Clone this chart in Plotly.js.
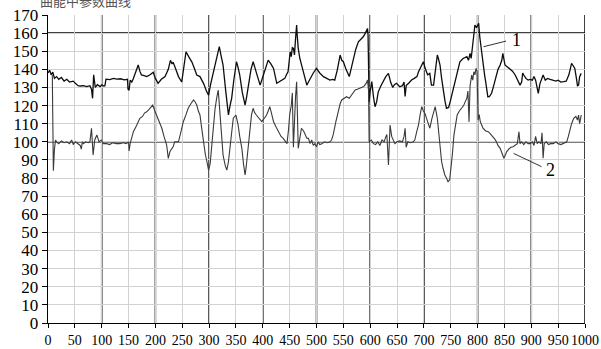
<!DOCTYPE html>
<html>
<head>
<meta charset="utf-8">
<script src="https://cdn.plot.ly/plotly-3.0.1.min.js"></script>
<style>html,body{margin:0;padding:0;background:#fff;}#chart{width:601px;height:349px;}</style>
</head>
<body>
<div id="chart"></div>
<script>
// Curve 1 (upper)
const curve1X = [0,3,6,9,12,16,20,25,30,35,40,47,52,56,60,66,72,78,81,83,85,88,92,97,100,104,106,108,115,122,128,135,142,148,149,151,153,156,159,163,168,171,174,179,184,190,196,200,205,211,218,224,228,231,233,238,243,249,253,257,262,268,272,277,283,290,295,299,303,308,313,319,322,326,331,336,339,342,346,351,354,357,362,367,370,373,378,382,387,392,395,398,401,405,410,415,420,426,432,437,441,444,447,449,451,453,455,457,459,461,463,464,466,469,472,477,482,485,488,494,500,506,513,519,525,530,534,539,544,547,550,555,561,565,569,573,578,583,587,591,595,596,598,600,603,606,609,612,615,620,624,629,634,638,642,645,649,655,660,663,665,667,672,677,682,687,690,693,696,699,703,707,711,714,718,721,725,727,730,733,736,739,742,746,749,753,758,762,767,773,780,783,786,788,791,793,795,798,802,804,805,808,810,813,815,817,819,822,826,830,835,838,842,845,847,849,851,855,860,865,870,875,879,882,884,886,890,894,898,902,905,908,911,913,916,920,922,926,930,935,941,946,950,955,960,965,970,975,978,981,984,986,988,990,993];
const curve1Y = [138,139.5,137,138.5,135,136,134.5,135.5,133.5,134.5,133,133.5,132,131,130.8,131,130.5,131,129,124,137,130,131.5,130.5,131.5,130.8,131,134.6,134.3,135,134.6,134.8,134.2,134.5,129,128.5,134,133,135,138,142.4,139,136.9,136.5,136,137,138.4,135,132.3,134.5,136,140,145,143,144,140,136,133,142,149.7,147,144,141,136.9,136,132,128,125.8,132,138.7,146,152.5,148,142.4,128,114.8,120,124,134,144.2,141,136.9,127,120.3,125,131.3,140,144.2,139,135,131.3,134,136.9,141,145.1,143,140.5,132.3,133.2,134,135,137,138.7,144,149.7,147,152,151.6,148,157,164.5,159,151.6,146,142.4,136,131.3,133,135,138,140.5,138,136,135,134.1,134.5,134.1,140,147.9,145,144.2,140,136,141,146,151,155.2,156.5,158,160,162.6,159,122,128,133.2,125,119.4,122,127.6,131,133.2,136,137.8,133,130,131.5,132.3,130.4,131,133,125,131,132.5,134.1,135,136,138.7,140.5,142.4,144.2,140,137,137.8,131.3,131.3,140,147.9,146,142.4,135,127.6,123,118.5,119,122.2,127,133.2,139,144.2,146,147,145,148.8,146,153.4,160,164.5,163,165.4,158,155.3,148,142.4,137,133.2,128,124.9,125,126.8,131,136.9,140,142.4,145,148.8,145,142.4,141.5,140.5,139,136.9,134,131.3,133,138,136.9,135,134.1,134.5,134,136,134,130,126.8,132,135,136.9,134,135,134.5,134.1,133.5,134,133,133.2,133.5,137,143.3,142,140.5,135,131,131.3,136,137.8];

// Curve 2 (lower)
const curve2X = [8,10,12,14,16,20,25,30,35,40,44,47,51,55,60,62,64,66,70,75,78,81,83,84,87,91,95,99,103,109,115,120,127,134,140,146,150,151,153,156,159,165,171,176,180,184,188,192,195,199,202,207,212,216,221,224,227,230,233,236,243,248,252,257,261,266,271,274,277,280,283,286,289,293,296,299,302,305,308,311,314,317,320,323,326,330,333,336,339,342,345,350,354,357,361,364,367,369,371,374,376,379,382,385,388,393,398,403,407,410,413,416,420,425,429,434,438,442,445,448,450,453,455,457,459,461,463,465,466,469,472,476,479,482,485,488,491,494,497,500,503,506,510,515,520,525,528,531,536,541,544,547,551,556,561,566,569,572,576,581,585,588,590,593,595,597,598,602,606,610,614,618,622,626,628,631,634,636,637,640,643,646,650,655,660,663,665,667,670,675,680,683,687,690,693,696,699,702,706,711,715,718,721,725,729,733,736,739,742,745,748,750,753,756,759,762,766,770,774,777,780,782,784,786,789,791,793,795,797,799,801,803,805,808,810,815,820,825,829,832,835,838,842,845,849,852,854,858,862,866,870,874,877,879,882,886,890,894,898,902,905,908,911,914,918,920,922,924,928,932,936,941,946,950,955,960,963,966,969,972,975,979,983,986,988,990,993];
const curve2Y = [137,84,96,101,100,99,100.5,99.5,100,99,101,98.6,100,99,98,96,100,99,100,99.5,100,107.5,98,92.7,101,103.8,100,101,99,99,98.5,99.5,99,99,99.5,99,100,95,99,102,105.6,109,113,114,116,116.6,118,119,120.3,117,114.8,111,107.5,103,98.2,90.9,94.5,96,97.3,100,100,106,111.1,115,118.5,121,123.1,122,120.3,117,114.8,108,100,93,89,84.4,88,98,109.3,118,124,128.6,116.6,104,92.7,87,84.4,89,96.4,105,113,114.8,109.3,103,96.4,88,81.7,86,92.7,102,109.3,115,118.5,116,114.8,113,111.1,113,114.8,117,119.4,116,111.1,108,105.6,103,101.9,100,99,107,114.8,120,127,97,118,125,133.2,112,96.4,102,107.5,106,103.8,102,101.9,99,101,98,99,97.3,100,98.5,99,100,99.5,100,101,103.8,111,118.5,121,123.1,124,124.9,124,125.8,127,128.6,129,129.5,130,130.5,131.3,132.5,134.1,128,100,101,99,98.5,100,98,101,100,101.9,104,87.2,98,109.3,103,101,99,100,100.5,100,103,107.5,97,100,99.5,100,101,106,109.3,115,119.4,117,115.7,112,107.5,113,116,119.4,113,100,89,85,81.7,80,78,79,83.5,93,103.8,110,114.8,117,118.5,120,122.2,124,128,111,131,136.9,134,138.7,137,140.5,139,112,115,111.1,109,107.5,106,105.6,104,102.8,101.5,100,98,96.4,94,90.9,93,94.5,96,97,97.3,98,99,105.6,99,100,98.5,100,99,99,100,98,103,99,100,99,105,90.9,99,100,98.5,99,99,100,99,98.5,99,99.5,100,103,107.5,110,113,114,112,114.8,110,114.8];

const xTicks = [0,50,100,150,200,250,300,350,400,450,500,550,600,650,700,750,800,850,900,950,1000];
const yTicks = [0,10,20,30,40,50,60,70,80,90,100,110,120,130,140,150,160,170];
const majorX = [100,200,300,400,500,600,700,800,900,1000];
const majorY = [100,160];
const titleText = '曲能中参数曲线';

const serif = 'Liberation Serif';

const shapes = [];
majorX.forEach(v => shapes.push({type:'line', layer:'below', xref:'x', yref:'paper', x0:v, x1:v, y0:0, y1:1, line:{color:'#000', width:1.5}}));
majorY.forEach(v => shapes.push({type:'line', layer:'below', xref:'paper', yref:'y', x0:0, x1:1, y0:v, y1:v, line:{color:'#000', width:1.5}}));
// leader lines for labels
shapes.push({type:'line', xref:'x', yref:'y', x0:811, y0:152.5, x1:853, y1:155.6, line:{color:'#333', width:1}});
shapes.push({type:'line', xref:'x', yref:'y', x0:867, y0:93.6, x1:919, y1:86.3, line:{color:'#333', width:1}});

const data = [
  {x: curve1X, y: curve1Y, mode:'lines', line:{color:'#0d0d0d', width:1.3}, hoverinfo:'skip'},
  {x: curve2X, y: curve2Y, mode:'lines', line:{color:'#3a3a3a', width:1.1}, hoverinfo:'skip'}
];

const layout = {
  width:601, height:349,
  margin:{l:48, r:16, t:15, b:26},
  paper_bgcolor:'#fff', plot_bgcolor:'#fff',
  showlegend:false,
  font:{family:serif, color:'#000'},
  xaxis:{range:[0,1000], tickvals:xTicks, ticktext:xTicks.map(String), tickangle:0, showgrid:true, gridcolor:'#d2d2d2', gridwidth:1,
         zeroline:false, showline:true, linecolor:'#000', linewidth:1.3, ticks:'outside', ticklen:4, tickcolor:'#000',
         tickfont:{size:14, family:serif, color:'#000'}, fixedrange:true},
  yaxis:{range:[0,170], tickvals:yTicks, ticktext:yTicks.map(String), showgrid:true, gridcolor:'#d2d2d2', gridwidth:1,
         zeroline:false, showline:true, linecolor:'#000', linewidth:1.3, ticks:'outside', ticklen:5, tickcolor:'#000',
         tickfont:{size:17, family:serif, color:'#000'}, fixedrange:true},
  shapes: shapes,
  annotations:[
    {x:860, y:156, xref:'x', yref:'y', text:'1', showarrow:false, xanchor:'left', yanchor:'middle', font:{size:18, family:serif, color:'#000'}},
    {x:924, y:84.4, xref:'x', yref:'y', text:'2', showarrow:false, xanchor:'left', yanchor:'middle', font:{size:18, family:serif, color:'#000'}},
    {x:0.07, y:1, xref:'paper', yref:'paper', yshift:15, text:titleText, showarrow:false, xanchor:'center', yanchor:'middle', font:{size:13, family:'Noto Sans CJK SC', color:'#555'}}
  ]
};

Plotly.newPlot('chart', data, layout, {displayModeBar:false, staticPlot:true});
</script>
</body>
</html>
